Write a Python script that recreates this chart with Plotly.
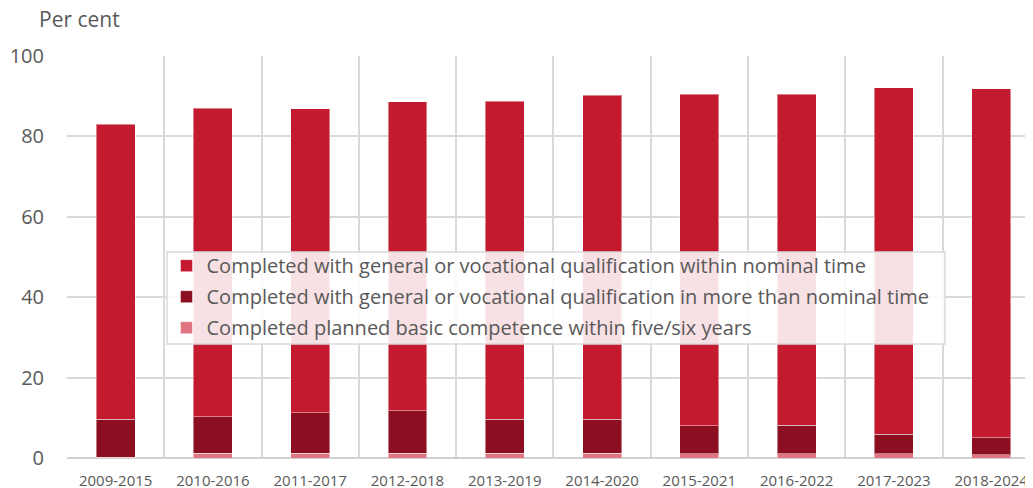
import plotly.graph_objects as go

categories = ["2009-2015", "2010-2016", "2011-2017", "2012-2018", "2013-2019",
              "2014-2020", "2015-2021", "2016-2022", "2017-2023", "2018-2024"]
planned_basic = [0.2, 1.2, 1.2, 1.2, 1.2, 1.2, 1.1, 1.0, 1.1, 0.8]
more_than_nominal = [9.4, 9.1, 10.1, 10.6, 8.5, 8.4, 6.9, 7.1, 4.8, 4.3]
within_nominal = [73.4, 76.7, 75.6, 76.8, 79.1, 80.6, 82.5, 82.4, 86.2, 86.8]

names = [
    "Completed with general or vocational qualification within nominal time",
    "Completed with general or vocational qualification in more than nominal time",
    "Completed planned basic competence within five/six years",
]
colors = ["#C41A2F", "#8B0F20", "#E07482"]

FONT = "Open Sans"
GREY = "#595959"

fig = go.Figure()
for vals, name, col, rank in [(planned_basic, names[2], colors[2], 3),
                              (more_than_nominal, names[1], colors[1], 2),
                              (within_nominal, names[0], colors[0], 1)]:
    fig.add_trace(go.Bar(
        x=categories, y=vals, name=name, legendgroup=f"g{rank}", legendrank=rank,
        marker=dict(color=col, line=dict(color="rgba(255,255,255,0.45)", width=1)),
        width=0.4,
    ))

# page body has an 8px margin: figure is sized so the plot lands where the reference has it
fig.update_layout(
    barmode="stack",
    width=1025, height=480,
    margin=dict(l=59, r=0, t=48, b=30, autoexpand=False),
    paper_bgcolor="white", plot_bgcolor="white",
    font=dict(family=FONT, color=GREY),
    showlegend=True,
    legend=dict(
        x=0.103, y=0.527, xanchor="left", yanchor="top",
        bgcolor="rgba(0,0,0,0)", borderwidth=0,
        font=dict(family=FONT, size=20, color=GREY),
        traceorder="grouped", tracegroupgap=2,
    ),
    shapes=[dict(
        type="rect", xref="paper", yref="paper",
        x0=0.1035, x1=0.9089, y0=0.2836, y1=0.5124,
        fillcolor="rgba(255,255,255,0.87)",
        line=dict(color="#D9D9D9", width=1.5), layer="above",
    )],
    xaxis=dict(
        type="category",
        range=[-0.5, 9.43],
        tickson="boundaries",
        showgrid=True, gridcolor="#D9D9D9", gridwidth=1.5,
        ticks="", tickfont=dict(family=FONT, size=15, color=GREY),
        ticklabelstandoff=12,
        showline=False, zeroline=False,
        automargin=False,
    ),
    yaxis=dict(
        range=[0, 100], tickvals=[0, 20, 40, 60, 80, 100],
        showgrid=True, gridcolor="#D9D9D9", gridwidth=1.5,
        zeroline=True, zerolinecolor="#D0D0D0", zerolinewidth=2,
        tickfont=dict(family=FONT, size=20, color=GREY),
        ticklabelstandoff=22,
        showline=False,
        automargin=False,
    ),
    annotations=[dict(
        text="Per cent", xref="paper", yref="paper", x=0, y=1,
        xanchor="left", yanchor="bottom", xshift=-30, yshift=21,
        showarrow=False, font=dict(family=FONT, size=21, color=GREY),
    )],
)

fig.write_html("out.html")
